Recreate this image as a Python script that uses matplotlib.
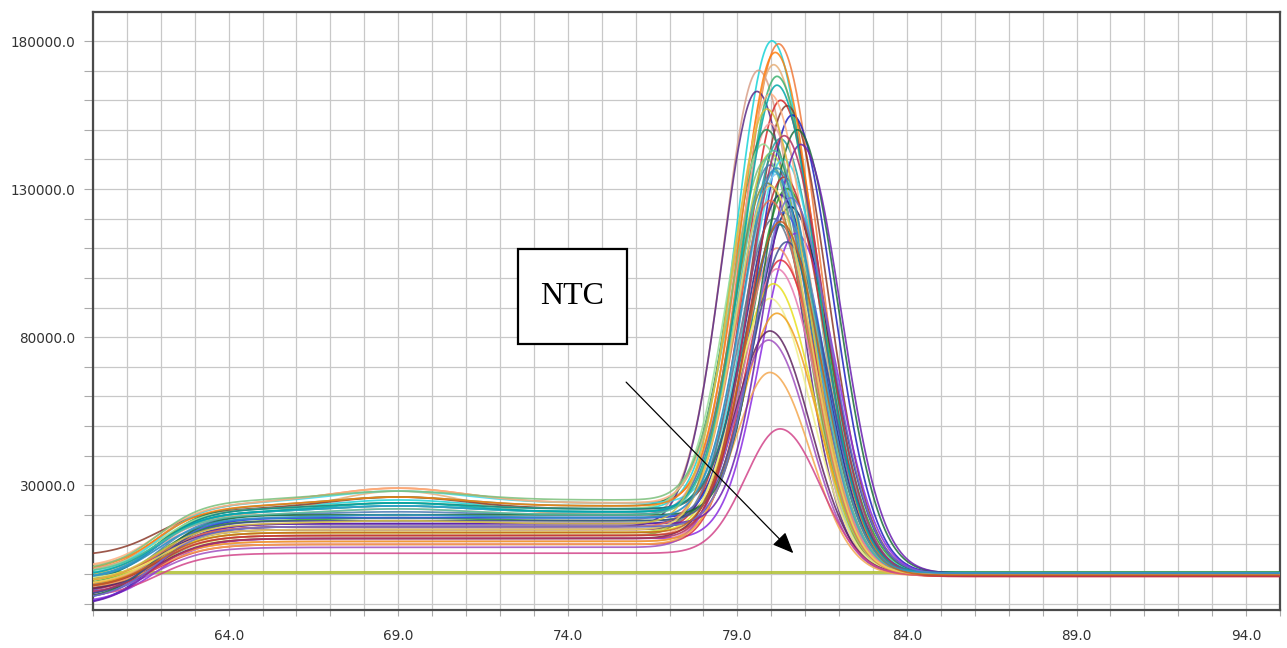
import numpy as np
import matplotlib
matplotlib.use("Agg")
import matplotlib.pyplot as plt
from matplotlib.patches import Rectangle
from matplotlib.ticker import MultipleLocator, FixedLocator, FormatStrFormatter

# ---------------- data ----------------
# per-sample melt-peak parameters
colors = ['#19d3d8', '#f07a3a', '#e6b07a', '#d9a08a', '#5b2a86', '#3cb371', '#d62728',
          '#8b3a2a', '#1f1fbf', '#f4a0a0', '#2e8b57', '#20a0a0', '#98e098', '#b8d040',
          '#40d8e8', '#4a78b4', '#88c4f0', '#8f8f2f', '#2ca02c', '#23238f', '#14286e',
          '#3a5ae6', '#64748c', '#108080', '#8a2be2', '#f4906c', '#e0303c', '#e87ab0',
          '#e8e020', '#f0f08c', '#f0a020', '#5e2460', '#a050c0', '#f4a850', '#d2448a',
          '#ff7f0e', '#ffb080', '#1a6e3a', '#6a1fb0', '#7cc07c', '#30a0d0', '#c03030',
          '#e87050', '#405090', '#00a8a8', '#d8c040', '#b03060', '#50c0a0', '#f0d060',
          '#7070d0', '#c06020', '#3090c0']
peak_temp = [80.05, 80.25, 80.1, 79.65, 79.6, 80.2, 80.3, 80.5, 80.65, 80.0, 79.9, 80.3,
             79.8, 80.0, 80.4, 80.0, 80.2, 79.9, 80.5, 80.3, 80.6, 80.4, 80.1, 80.3, 80.75,
             80.2, 80.3, 80.2, 80.1, 80.0, 80.2, 80.0, 79.95, 80.0, 80.3, 80.15, 80.0,
             80.8, 80.9, 79.9, 80.1, 80.4, 80.0, 80.5, 80.2, 79.9, 80.4, 80.1, 80.0,
             80.6, 80.3, 80.2]
peak_height = [180000, 179000, 172000, 170000, 163000, 168000, 160000, 158000, 155000,
               152000, 150000, 147000, 145000, 142000, 140000, 138000, 135000, 132000,
               130000, 128000, 124000, 122000, 120000, 118000, 115000, 110000, 106000,
               103000, 98000, 93000, 88000, 82000, 79000, 68000, 49000, 176000, 162000,
               150000, 145000, 140000, 136000, 134000, 126000, 112000, 165000, 157000,
               148000, 143000, 131000, 127000, 119000, 137000]
plateau = [22000, 24000, 20000, 18000, 16000, 21000, 15000, 22000, 19000, 20000, 23000,
           21000, 22000, 14000, 24000, 20000, 19000, 13000, 18000, 17000, 16000, 19000,
           15000, 22000, 12000, 13000, 10000, 11000, 14000, 12000, 11000, 12000, 9000,
           10000, 7000, 23000, 24000, 20000, 17000, 25000, 21000, 13000, 16000, 18000,
           21000, 17000, 12000, 20000, 15000, 16000, 14000, 19000]
start_level = [-2000, 0, 2000, 1000, -6000, -1000, -3000, 6000, -11000, -1000, -3000,
               -2000, 0, -4000, -1000, -5000, -2000, -6000, -4000, -8000, -9000, -7000,
               -5000, -3000, -10000, -4000, -6000, -5000, -3000, -2000, -4000, -6000,
               -7000, -5000, -8000, 1000, 2000, -9000, -11000, 1000, -2000, -5000, -3000,
               -8000, -1000, -3000, -7000, 0, -4000, -9000, -5000, -2000]
end_level = [300, -500, 200, 0, 0, 500, -800, 300, 200, 0, 500, 300, 0, -300, 400, 0,
             200, -500, 400, 0, 200, -200, 0, 500, 0, -600, -800, -500, 0, 200, -300, 0,
             0, -500, -500, 0, 300, 300, 200, 300, 200, -700, -300, 0, 400, 0, -600,
             300, 0, 200, -400, 300]
hump = [3000, 5000, 8000, 0, 0, 2000, 0, 4000, 0, 2000, 3000, 2000, 2000, 0, 4000, 1000,
        1000, 0, 1000, 0, 0, 0, 0, 2000, 0, 0, 0, 0, 0, 0, 0, 0, 0, 0, 0, 3000, 5000, 0,
        0, 3000, 2000, 0, 0, 0, 3000, 1000, 0, 2000, 0, 0, 0, 1000]
ntc_level = 800

x_ticks = [64.0, 69.0, 74.0, 79.0, 84.0, 89.0, 94.0]
y_ticks = [30000.0, 80000.0, 130000.0, 180000.0]
annotation_text = "NTC"

# ---------------- figure ----------------
W, H, DPI = 1287, 648, 100
fig = plt.figure(figsize=(W / DPI, H / DPI), dpi=DPI)
ax = fig.add_axes([93 / W, 1 - 610 / H, (1280 - 93) / W, (610 - 12) / H])

T = np.linspace(60.0, 95.0, 900)


def melt_curve(tm, pk, pl, st, po, hp):
    rise = 1.0 / (1.0 + np.exp(-(T - 61.9) / 0.7))
    pre = st + (pl - st) * rise + hp * np.exp(-((T - 69.0) / 2.8) ** 2)
    sw = 1.0 / (1.0 + np.exp(-(T - (tm + 1.0)) / 0.5))
    base = pre * (1 - sw) + po * sw
    i = np.argmin(np.abs(T - tm))
    amp = pk - base[i]
    sig = np.where(T < tm, 1.05, 1.2)
    return base + amp * np.exp(-0.5 * ((T - tm) / sig) ** 2)


ax.plot(T, np.full_like(T, ntc_level), color='#b0c030', lw=2.2, alpha=0.85, zorder=2)
for c, tm, pk, pl, st, po, hp in zip(colors, peak_temp, peak_height, plateau,
                                     start_level, end_level, hump):
    ax.plot(T, melt_curve(tm, pk, pl, st, po, hp), color=c, lw=1.25, alpha=0.85, zorder=3)

ax.set_xlim(60.0, 95.0)
ax.set_ylim(-12160, 189800)

ax.xaxis.set_major_locator(FixedLocator(x_ticks))
ax.xaxis.set_minor_locator(MultipleLocator(1.0))
ax.yaxis.set_major_locator(FixedLocator(y_ticks))
ax.yaxis.set_minor_locator(MultipleLocator(10000))
ax.xaxis.set_major_formatter(FormatStrFormatter('%.1f'))
ax.yaxis.set_major_formatter(FormatStrFormatter('%.1f'))

ax.grid(True, which='both', color='#c8c8c8', lw=0.9, zorder=0)
ax.set_axisbelow(True)
ax.tick_params(which='both', direction='out', color='#aaaaaa', width=0.8)
ax.tick_params(axis='y', which='both', length=6.5, pad=6, labelsize=9.8, labelcolor='#333333')
ax.tick_params(axis='x', which='both', length=4.5, pad=9, labelsize=9.8, labelcolor='#333333')
for s in ax.spines.values():
    s.set_color('#4a4a4a')
    s.set_linewidth(1.6)

# NTC annotation box and arrow
ax.add_patch(Rectangle((72.54, 77650), 75.75 - 72.54, 109700 - 77650, facecolor='white',
                       edgecolor='black', lw=1.6, zorder=5))
ax.text(74.14, 93700, annotation_text, family='Liberation Serif', fontsize=23,
        ha='center', va='center', zorder=6)
ax.annotate('', xy=(80.65, 7040), xytext=(75.72, 64800), zorder=6,
            arrowprops=dict(arrowstyle='-|>,head_length=1.3,head_width=0.55',
                            color='black', lw=0.9, shrinkA=0, shrinkB=0))

fig.savefig('out.png', dpi=DPI)
